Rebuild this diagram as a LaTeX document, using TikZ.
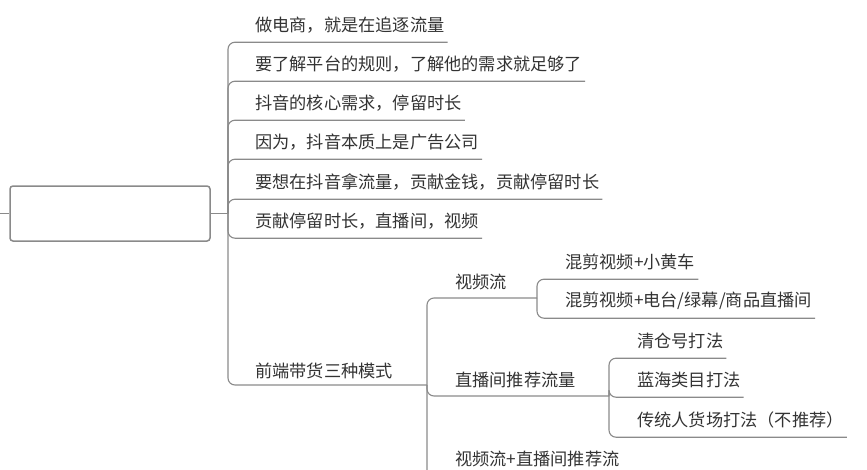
\documentclass[tikz,border=0pt]{standalone}
\usepackage{fontspec}
\newfontfamily\cjk{Noto Sans CJK SC}
\definecolor{linegray}{HTML}{8A8A8A}
\definecolor{textgray}{HTML}{333333}
\tikzset{
  topic/.style={anchor=west, inner xsep=3pt, inner ysep=0pt, minimum height=34pt,
    text=textgray, font=\cjk\fontsize{17.2}{19}\selectfont},
  branch/.style={draw=linegray, line width=1.1pt, rounded corners=7pt},
}
\begin{document}
\begin{tikzpicture}[x=1pt, y=-1pt]
    \useasboundingbox (0,0) rectangle (867,469);
    \clip (0,0) rectangle (867,469);

    % Root
    \node[draw=linegray, line width=1.5pt, rounded corners=3pt, minimum width=200pt,
          minimum height=55pt] (root) at (110,213.5) {};
    \coordinate (rootin) at (0,213.5);
    \draw[branch] (rootin) -- (root.west);

    % Junctions
    \coordinate (j1) at (228,213.5);
    \coordinate (j2) at (427,385);
    \coordinate (j3) at (537,298);
    \coordinate (j4) at (609,396);

    % First level
    \node[topic] (t1) at (252,25) {做电商，就是在追逐流量};
    \node[topic] (t2) at (252,64) {要了解平台的规则，了解他的需求就足够了};
    \node[topic] (t3) at (252,103) {抖音的核心需求，停留时长};
    \node[topic] (t4) at (252,142) {因为，抖音本质上是广告公司};
    \node[topic] (t5) at (252,182) {要想在抖音拿流量，贡献金钱，贡献停留时长};
    \node[topic] (t6) at (252,221) {贡献停留时长，直播间，视频};
    \node[topic] (t7) at (252,371) {前端带货三种模式};

    \draw[branch] (root.east) -- (j1);
    \foreach \n in {t1,t2,t3,t4,t5,t6}
        \draw[branch] (j1) |- (\n.south east);
    \draw[branch] (j1) |- (j2);

    % Second level
    \node[topic] (s1) at (452,282) {视频流};
    \node[topic] (s2) at (452,380) {直播间推荐流量};
    \node[topic] (s3) at (452,459) {视频流+直播间推荐流};
    \coordinate (s3end) at (640,477);

    \draw[branch] (j2) |- (j3);
    \draw[branch] (j2) |- (j4);
    \draw[branch] (j2) |- (s3end);

    % Third level
    \node[topic] (v1) at (562,262) {混剪视频+小黄车};
    \node[topic] (v2) at (562,301) {混剪视频+电台/绿幕/商品直播间};
    \node[topic] (l1) at (634,341) {清仓号打法};
    \node[topic] (l2) at (634,380) {蓝海类目打法};
    \node[topic] (l3) at (634,420) {传统人货场打法（不推荐）};

    \foreach \n in {v1,v2}
        \draw[branch] (j3) |- (\n.south east);
    \foreach \n in {l1,l2,l3}
        \draw[branch] (j4) |- (\n.south east);
\end{tikzpicture}
\end{document}
